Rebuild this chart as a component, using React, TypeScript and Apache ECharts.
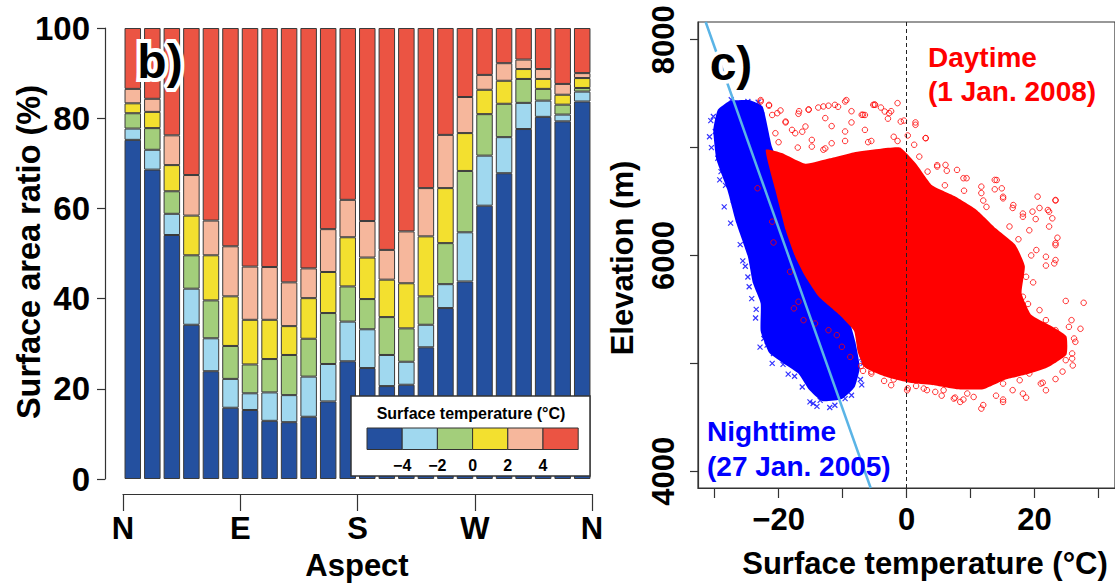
import React, { useEffect, useRef } from "react";
import * as echarts from "echarts";

const FONT = "'Liberation Sans', Arial, Helvetica, sans-serif";

// ---------------- Panel b: surface area ratio by aspect ----------------
const aspectBins = [
  "0-15", "15-30", "30-45", "45-60", "60-75", "75-90",
  "90-105", "105-120", "120-135", "135-150", "150-165", "165-180",
  "180-195", "195-210", "210-225", "225-240", "240-255", "255-270",
  "270-285", "285-300", "300-315", "315-330", "330-345", "345-360",
];
const aspectTicks = [0, 90, 180, 270, 360];
const aspectNames = ["N", "E", "S", "W", "N"];

const classNames = ["< −4", "−4 to −2", "−2 to 0", "0 to 2", "2 to 4", "> 4"];
const classColors = ["#24509F", "#A0D8EF", "#A3CE7B", "#F3E02F", "#F6B79C", "#EB5443"];
const legendTickLabels = ["−4", "−2", "0", "2", "4"];

const shareBelowM4 = [75.2, 68.6, 54.1, 34.2, 23.9, 15.8, 15.3, 12.9, 12.6, 13.8, 17.2, 26.1, 24.6, 20.6, 20.9, 29.2, 37.9, 43.8, 60.6, 67.8, 77.6, 80.3, 79.3, 83.7];
const shareM4toM2 = [2.5, 4.4, 4.7, 8.0, 7.3, 6.4, 3.7, 6.3, 6.0, 8.9, 8.3, 8.8, 8.6, 6.9, 5.1, 5.0, 5.3, 10.9, 11.1, 8.0, 5.8, 3.6, 1.5, 2.2];
const shareM2to0 = [3.4, 4.8, 5.0, 7.4, 8.4, 7.3, 6.4, 7.4, 8.9, 8.4, 11.3, 7.8, 6.7, 8.4, 7.4, 6.3, 9.1, 13.6, 9.2, 7.4, 5.3, 2.6, 2.2, 0.8];
const share0to2 = [2.2, 3.6, 5.8, 8.8, 10.0, 11.0, 9.9, 8.7, 6.4, 9.0, 9.1, 10.9, 9.2, 8.3, 10.0, 13.3, 12.2, 8.4, 5.4, 5.1, 2.2, 2.2, 2.2, 2.2];
const share2to4 = [3.2, 2.9, 6.6, 9.0, 7.7, 11.1, 11.8, 11.7, 9.7, 6.6, 9.5, 8.3, 8.1, 6.6, 11.5, 10.7, 11.8, 8.0, 3.3, 3.9, 2.1, 2.2, 2.4, 1.1];
const shareAbove4 = [13.5, 15.7, 23.8, 32.6, 42.7, 48.4, 52.9, 53.0, 56.4, 53.3, 44.6, 38.1, 42.8, 49.2, 45.1, 35.5, 23.7, 15.3, 10.4, 7.8, 7.0, 9.1, 12.4, 10.0];
const classShares = [shareBelowM4, shareM4toM2, shareM2to0, share0to2, share2to4, shareAbove4];

// ---------------- Panel c: elevation vs surface temperature ----------------
const tempRange = [-32.6, 32.6];
const elevRange = [3844, 8164];
const tempTicks = [-30, -20, -10, 0, 10, 20, 30];
const tempLabels = [-20, 0, 20];
const elevTicks = [4000, 5000, 6000, 7000, 8000];
const elevLabels = [4000, 6000, 8000];

// dense nighttime cloud outline (temperature, elevation)
const nightCore = [
  [-29.5, 7350], [-27.7, 7430], [-24.6, 7440], [-22.5, 7380], [-21.0, 7000],
  [-18.0, 6600], [-15.0, 6100], [-12.0, 5650], [-9.0, 5400], [-8.0, 5200],
  [-7.3, 4960], [-8.1, 4781], [-10.1, 4670], [-13.2, 4650], [-15.3, 4760],
  [-16.9, 4905], [-19.5, 5010], [-21.5, 5100], [-22.8, 5300], [-22.8, 5555],
  [-24.0, 5741], [-24.8, 5988], [-26.6, 6298], [-28.0, 6607], [-29.7, 6886],
  [-30.2, 7164],
];
// scattered nighttime points outside the dense cloud
const nightFringe = [
  [-30.2, 7288], [-29.9, 7149], [-29.5, 6901], [-29.0, 6777], [-30.5, 7000],
  [-28.3, 6650], [-27.1, 6514], [-26.1, 6390], [-24.6, 5710], [-25.2, 5900],
  [-23.5, 5500], [-22.3, 5230], [-21.8, 5168], [-20.8, 5091], [-19.3, 4990],
  [-17.5, 4880], [-15.1, 4642], [-14.6, 4627], [-13.5, 4657], [-11.2, 4611],
  [-9.6, 4673], [-8.6, 4704], [-7.2, 4850], [-7.0, 5050], [-26.4, 7412],
  [-24.8, 7427], [-27.4, 7443], [-28.7, 7319], [-23.2, 7420], [-22.6, 7300],
  [-30.8, 7100], [-30.6, 7250], [-29.2, 6700], [-28.5, 6450], [-27.5, 6300],
  [-26.0, 6100], [-25.6, 5950], [-24.8, 5800], [-24.2, 5600], [-23.6, 5420],
  [-22.9, 5150], [-21.0, 5000], [-18.5, 4900], [-16.3, 4780], [-14.0, 4600],
  [-12.0, 4590], [-7.0, 4800], [-6.8, 5000], [-7.2, 5150],
];
// dense daytime cloud outline
const dayCore = [
  [-22.0, 6979], [-19.5, 6950], [-15.8, 6850], [-12.0, 6900], [-8.0, 6960],
  [-4.0, 6990], [-1.0, 7000], [1.5, 6850], [4.0, 6650], [7.5, 6550],
  [11.0, 6420], [14.0, 6250], [17.0, 6100], [18.5, 5900], [18.0, 5650],
  [19.5, 5450], [22.5, 5350], [25.0, 5250], [25.0, 5080], [22.0, 4960],
  [19.0, 4900], [15.5, 4850], [12.0, 4760], [8.0, 4760], [4.0, 4800],
  [0.5, 4820], [-3.5, 4880], [-6.5, 4960], [-7.6, 5100], [-8.2, 5300],
  [-10.5, 5450], [-13.7, 5617], [-15.8, 5802], [-17.4, 5988], [-18.9, 6236],
  [-20.5, 6607],
];
// scattered daytime points outside the dense cloud
const dayFringe = [
  [-22.8, 7440], [-21.5, 7388], [-19.7, 7344], [-16.8, 7337], [-15.3, 7354], [-13.8, 7371],
  [-12.2, 7388], [-10.7, 7378], [-9.4, 7440], [-8.6, 7337], [-6.5, 7302], [-5.0, 7399],
  [-4.0, 7371], [-2.4, 7337], [-0.4, 7250], [1.4, 7233], [0.2, 7112], [3.0, 7088],
  [1.2, 7026], [-17.9, 7164], [-16.3, 7147], [-11.7, 7199], [-8.6, 7233], [-6.5, 7164],
  [-14.8, 7009], [-12.7, 6992], [-9.6, 7061], [-2.9, 7268], [-1.4, 7061], [-5.5, 7061],
  [-18.9, 7233], [-21.0, 7302], [-22.8, 7427], [-21.5, 7396], [-20.2, 7319], [-18.9, 7241],
  [-16.9, 7313], [-15.3, 7350], [-13.0, 7381], [-11.2, 7396], [-9.6, 7427], [-12.7, 7273],
  [-9.6, 7149], [-7.0, 7304], [-4.9, 7396], [-3.4, 7334], [-17.4, 7133], [-14.8, 7071],
  [-11.7, 7040], [-15.8, 7195], [-20.5, 7133], [-5.2, 7396], [-2.7, 7319], [-0.9, 7241],
  [1.4, 7211], [3.0, 7087], [-1.4, 7412], [-6.8, 7304],
  [4.8, 6837], [6.3, 6785], [8.9, 6716], [14.1, 6699], [13.8, 6613], [11.7, 6578],
  [12.0, 6509], [15.1, 6544], [16.6, 6440], [18.2, 6388], [19.7, 6406], [20.8, 6440],
  [20.2, 6337], [22.3, 6406], [23.3, 6509], [23.6, 6164], [23.3, 6113], [22.3, 6268],
  [19.2, 6233], [16.1, 6268], [21.8, 5906], [23.3, 5957], [24.9, 5578], [27.7, 5561],
  [27.2, 5320], [26.4, 5199], [25.9, 5044], [24.4, 4923], [23.3, 4854], [21.3, 4820],
  [18.7, 4682], [16.6, 4751], [15.1, 4664], [12.0, 4613], [8.9, 4664], [7.6, 4682],
  [5.8, 4751], [3.2, 4751], [0.2, 4768], [-3.5, 4837], [-5.5, 4923], [-7.1, 4975],
  [2.0, 6916], [3.3, 6777], [4.8, 6824], [6.1, 6839], [7.9, 6793], [9.4, 6716],
  [11.7, 6638], [13.8, 6700], [14.9, 6622], [15.1, 6529], [16.7, 6467], [18.2, 6359],
  [20.5, 6545], [22.1, 6421], [23.3, 6514], [22.8, 6344], [23.3, 6096], [21.8, 5988],
  [20.3, 6050], [23.1, 5926], [18.7, 5802], [16.7, 5586], [18.2, 5617], [20.8, 5493],
  [21.8, 5400], [23.3, 5307], [25.4, 5338], [26.2, 5230], [24.4, 5153], [22.6, 5075],
  [24.9, 5029], [25.9, 5091], [20.5, 4967], [19.2, 4905], [17.7, 4843], [21.0, 4812],
  [21.8, 4750], [15.1, 4812], [18.2, 4719], [15.1, 4642], [11.7, 4580], [10.5, 4688],
  [8.4, 4642], [7.4, 4673], [4.5, 4735], [2.7, 4766], [0.1, 4750], [-2.4, 4797],
  [-5.5, 4905], [-6.5, 4998],
  [-23.3, 6623], [-21.0, 6313], [-20.8, 6120], [-18.2, 5849], [-16.9, 5571], [-17.6, 5509],
  [-16.1, 5400], [-14.3, 5369], [-12.2, 5307], [-10.9, 5261], [-10.1, 5153], [-8.8, 5059],
  [17.5, 6150], [19.5, 6000], [19.8, 5750], [19.0, 5550], [6.0, 6650], [9.0, 6600],
  [12.5, 6450], [-20.0, 7050], [-17.0, 7000], [-13.0, 6980], [-6.0, 7050], [-2.0, 7100],
  [25.8, 5400], [26.0, 4980], [14.0, 4700], [9.5, 4720], [5.5, 4700], [1.5, 4790],
  [-2.0, 4850], [-6.8, 4930],
];
const nightFit = [[-31.4, 8164], [-5.6, 3844]];
const zeroLine = [[0, 3844], [0, 8164]];

const AX = "#333";

function polygonSeries(points: number[][], color: string, z: number) {
  return {
    type: "custom",
    xAxisIndex: 2,
    yAxisIndex: 1,
    silent: true,
    z,
    data: points,
    encode: { x: 0, y: 1 },
    renderItem: (params: any, api: any) => {
      if (params.dataIndex !== 0) return null;
      return {
        type: "polygon",
        shape: { points: points.map((p) => api.coord(p)), smooth: 0.15 },
        style: { fill: color },
      };
    },
  };
}

function label(text: string, x: number, y: number, extra: any = {}) {
  return {
    type: "text",
    x,
    y,
    z: 100,
    rotation: extra.rotation || 0,
    style: {
      text,
      fontFamily: FONT,
      fontWeight: "bold",
      fontSize: extra.fontSize || 31,
      fill: extra.fill || "#000",
      align: extra.align || "center",
      verticalAlign: "middle",
      stroke: extra.stroke,
      lineWidth: extra.lineWidth,
    },
  };
}

export default function App() {
  const ref = useRef<HTMLDivElement>(null);
  useEffect(() => {
    const chart = echarts.init(ref.current!, null, { renderer: "svg" });

    const barSeries = classShares.map((d, i) => ({
      type: "bar",
      name: classNames[i],
      xAxisIndex: 0,
      yAxisIndex: 0,
      stack: "area",
      data: d,
      barWidth: 16.5,
      itemStyle: { color: classColors[i], borderColor: "#3a3a3a", borderWidth: 1 },
    }));

    const legendEls: any[] = [
      {
        type: "rect",
        z: 100,
        shape: { x: 351, y: 396, width: 239, height: 80 },
        style: { fill: "#fff", stroke: AX, lineWidth: 1.5 },
      },
      label("Surface temperature (°C)", 471, 413, { fontSize: 16 }),
      ...classColors.map((c, i) => ({
        type: "rect",
        z: 100,
        shape: { x: 367 + i * 35.2, y: 428, width: 35.2, height: 21.5 },
        style: { fill: c, stroke: AX, lineWidth: 1 },
      })),
      ...legendTickLabels.map((t, i) => label(t, 367 + (i + 1) * 35.2, 465, { fontSize: 16 })),
    ];

    const option: any = {
      animation: false,
      backgroundColor: "#fff",
      textStyle: { fontFamily: FONT },
      grid: [
        { left: 123, top: 28, width: 469, height: 451, show: false },
        { left: 698, top: 22, width: 422, height: 466, show: true, borderColor: AX, borderWidth: 1.2, backgroundColor: "transparent" },
      ],
      xAxis: [
        { type: "category", gridIndex: 0, data: aspectBins, show: false },
        {
          type: "value", gridIndex: 0, min: 0, max: 360, position: "bottom", offset: 15,
          axisLine: { show: true, onZero: false, lineStyle: { color: AX, width: 1.2 } },
          axisTick: { show: true, length: 17, customValues: aspectTicks, lineStyle: { color: AX, width: 1.2 } },
          axisLabel: {
            customValues: aspectTicks,
            formatter: (v: number) => aspectNames[aspectTicks.indexOf(v)],
            fontSize: 31, fontWeight: "bold", color: "#000", margin: 22, lineHeight: 24, fontFamily: FONT,
          },
          splitLine: { show: false },
        },
        {
          type: "value", gridIndex: 1, min: tempRange[0], max: tempRange[1], position: "bottom",
          axisLine: { show: true, onZero: false, lineStyle: { color: AX, width: 1.2 } },
          axisTick: { show: true, length: 10, customValues: tempTicks, lineStyle: { color: AX, width: 1.2 } },
          axisLabel: {
            customValues: tempLabels,
            formatter: (v: number) => (v < 0 ? "\u2212" + Math.abs(v) : String(v)),
            fontSize: 31, fontWeight: "bold", color: "#000", margin: 16, fontFamily: FONT,
          },
          splitLine: { show: false },
        },
      ],
      yAxis: [
        {
          type: "value", gridIndex: 0, min: 0, max: 100, interval: 20, offset: 18,
          axisLine: { show: true, onZero: false, lineStyle: { color: AX, width: 1.2 } },
          axisTick: { show: true, length: 8, lineStyle: { color: AX, width: 1.2 } },
          axisLabel: { fontSize: 33, fontWeight: "bold", color: "#000", margin: 15, fontFamily: FONT },
          splitLine: { show: false },
        },
        {
          type: "value", gridIndex: 1, min: elevRange[0], max: elevRange[1],
          axisLine: { show: true, onZero: false, lineStyle: { color: AX, width: 1.2 } },
          axisTick: { show: true, length: 8, customValues: elevTicks, lineStyle: { color: AX, width: 1.2 } },
          axisLabel: {
            customValues: elevLabels, rotate: 90, formatter: (v: number) => String(v),
            fontSize: 31, fontWeight: "bold", color: "#000", margin: 19, fontFamily: FONT,
          },
          splitLine: { show: false },
        },
      ],
      series: [
        ...barSeries,
        polygonSeries(nightCore, "#0000FF", 1),
        {
          type: "scatter", xAxisIndex: 2, yAxisIndex: 1, data: nightFringe, z: 2, silent: true,
          symbol: "path://M0 0L10 10M10 0L0 10", symbolSize: 5,
          itemStyle: { color: "rgba(0,0,0,0)", borderColor: "#0000FF", borderWidth: 1.2 },
        },
        polygonSeries(dayCore, "#FF0000", 3),
        {
          type: "scatter", xAxisIndex: 2, yAxisIndex: 1, data: dayFringe, z: 4, silent: true,
          symbol: "circle", symbolSize: 5.5,
          itemStyle: { color: "rgba(0,0,0,0)", borderColor: "#FF0000", borderWidth: 1 },
        },
        {
          type: "line", xAxisIndex: 2, yAxisIndex: 1, data: zeroLine, z: 5, silent: true,
          symbol: "none", lineStyle: { color: "#222", width: 1, type: [4, 3] },
        },
        {
          type: "line", xAxisIndex: 2, yAxisIndex: 1, data: nightFit, z: 6, silent: true,
          symbol: "none", lineStyle: { color: "#5AB4E6", width: 2.5 },
        },
      ],
      graphic: [
        ...legendEls,
        label("b)", 160, 61, { fontSize: 48, fill: "#fff", stroke: "#fff", lineWidth: 8 }),
        label("b)", 160, 61, { fontSize: 48 }),
        label("c)", 731, 63, { fontSize: 48, fill: "#fff", stroke: "#fff", lineWidth: 8 }),
        label("c)", 731, 63, { fontSize: 48 }),
        label("Daytime", 928, 57, { fontSize: 28, fill: "#FF0000", align: "left" }),
        label("(1 Jan. 2008)", 928, 91, { fontSize: 28, fill: "#FF0000", align: "left" }),
        label("Nighttime", 707, 431, { fontSize: 28, fill: "#0000FF", align: "left" }),
        label("(27 Jan. 2005)", 707, 466, { fontSize: 28, fill: "#0000FF", align: "left" }),
        label("Surface area ratio (%)", 29, 252, { rotation: Math.PI / 2, fontSize: 32.5 }),
        label("Aspect", 357, 565),
        label("Elevation (m)", 622, 258, { rotation: Math.PI / 2 }),
        label("Surface temperature (°C)", 925, 563),
      ],
    };
    chart.setOption(option);
    return () => chart.dispose();
  }, []);
  return (
    <div
      ref={ref}
      style={{ position: "fixed", left: 0, top: 0, width: 1115, height: 586, background: "#fff" }}
    />
  );
}
